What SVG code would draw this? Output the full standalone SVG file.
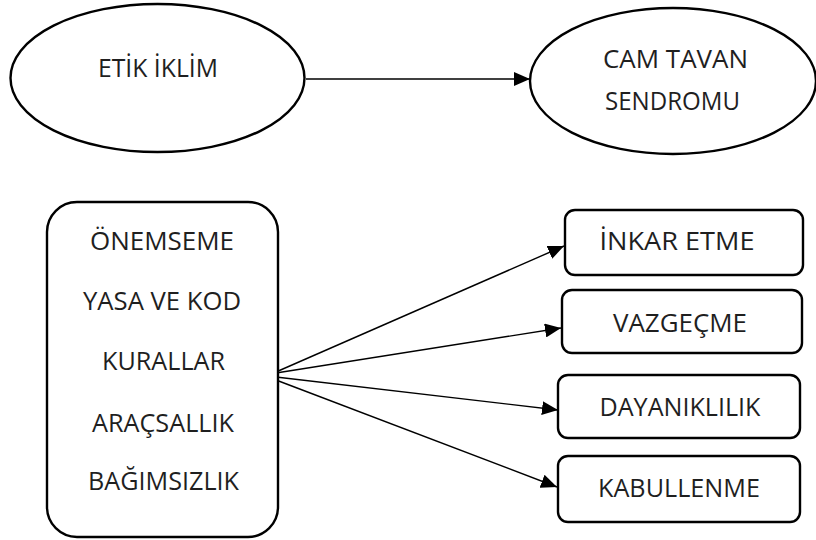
<svg xmlns="http://www.w3.org/2000/svg" width="816" height="540" viewBox="0 0 816 540">
<defs>
<marker id="ah" markerUnits="userSpaceOnUse" markerWidth="17" markerHeight="14" refX="16" refY="7" orient="auto">
<path d="M0,0 L16,7 L0,14 Z" fill="#000"/>
</marker>
</defs>
<style>
.shape{fill:#fff;stroke:#000;stroke-width:2.4}
.t{font-family:"Open Sans","Noto Sans","DejaVu Sans",sans-serif;font-size:25px;fill:#1f1f1f;text-anchor:middle}
.c{stroke:#000;stroke-width:1.4;fill:none;marker-end:url(#ah)}
</style>
<rect width="816" height="540" fill="#fff"/>
<g id="connectors">
<line class="c" x1="306" y1="79" x2="530" y2="79"/>
<line class="c" x1="276" y1="372" x2="564" y2="246"/>
<line class="c" x1="276" y1="373" x2="561" y2="328"/>
<line class="c" x1="276" y1="377" x2="558" y2="410"/>
<line class="c" x1="276" y1="380" x2="557" y2="487"/>
</g>
<g id="etik-iklim">
<ellipse class="shape" cx="157.5" cy="78" rx="147" ry="74"/>
<text class="t" x="158" y="77" textLength="120" lengthAdjust="spacingAndGlyphs">ETİK İKLİM</text>
</g>
<g id="cam-tavan">
<ellipse class="shape" cx="673" cy="81" rx="143" ry="73"/>
<text class="t" x="675.5" y="68" textLength="145" lengthAdjust="spacingAndGlyphs">CAM TAVAN</text>
<text class="t" x="672.5" y="110" textLength="135" lengthAdjust="spacingAndGlyphs">SENDROMU</text>
</g>
<g id="boyutlar">
<rect class="shape" x="47" y="202" width="231" height="335" rx="30"/>
<text class="t" x="162" y="250" textLength="144" lengthAdjust="spacingAndGlyphs">ÖNEMSEME</text>
<text class="t" x="162" y="310" textLength="158" lengthAdjust="spacingAndGlyphs">YASA VE KOD</text>
<text class="t" x="163.5" y="370" textLength="123" lengthAdjust="spacingAndGlyphs">KURALLAR</text>
<text class="t" x="163" y="432" textLength="142" lengthAdjust="spacingAndGlyphs">ARAÇSALLIK</text>
<text class="t" x="163.5" y="490" textLength="151" lengthAdjust="spacingAndGlyphs">BAĞIMSIZLIK</text>
</g>
<g id="inkar-etme">
<rect class="shape" x="565" y="210" width="238" height="65" rx="10"/>
<text class="t" x="677" y="250" textLength="155" lengthAdjust="spacingAndGlyphs">İNKAR ETME</text>
</g>
<g id="vazgecme">
<rect class="shape" x="562" y="290" width="240" height="63" rx="10"/>
<text class="t" x="680" y="332" textLength="134" lengthAdjust="spacingAndGlyphs">VAZGEÇME</text>
</g>
<g id="dayaniklilik">
<rect class="shape" x="558" y="375" width="242" height="63" rx="10"/>
<text class="t" x="680" y="416" textLength="161" lengthAdjust="spacingAndGlyphs">DAYANIKLILIK</text>
</g>
<g id="kabullenme">
<rect class="shape" x="558" y="456" width="242" height="66" rx="10"/>
<text class="t" x="679" y="497" textLength="162" lengthAdjust="spacingAndGlyphs">KABULLENME</text>
</g>
</svg>
